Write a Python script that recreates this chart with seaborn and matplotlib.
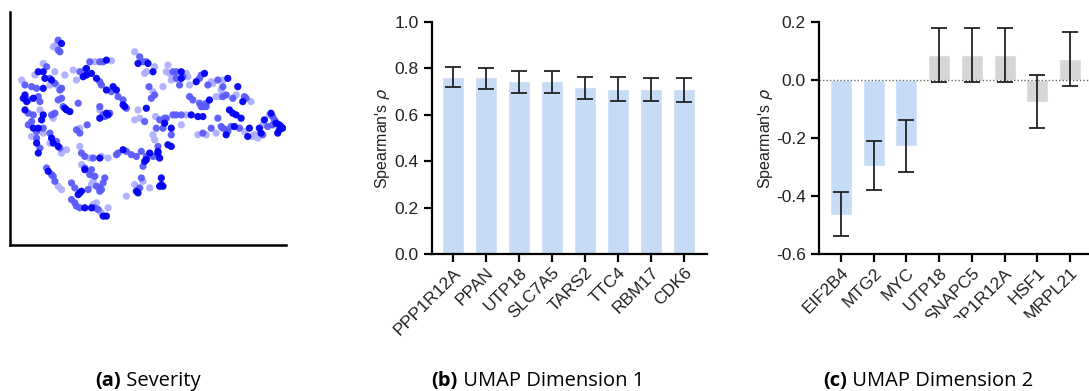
import matplotlib
matplotlib.use("Agg")
import matplotlib.pyplot as plt
import seaborn as sns
import pandas as pd
import numpy as np
from matplotlib.patches import Rectangle

# ---------------- data ----------------
# (a) UMAP embedding, points grouped by severity level
points_dark = [(185,130),(115,215),(130,215),(135,235),(155,240),(130,265),(75,285),(70,295),(100,295),(80,305),
               (75,330),(130,345),(125,360),(100,385),(115,385),(155,415),(160,430),(175,440),(110,430),(115,460),
               (250,230),(260,225),(320,180),(260,205),(275,220),(290,235),(320,270),(340,260),(350,270),(375,320),
               (370,315),(320,340),(325,345),(300,355),(200,330),(210,335),(195,325),(300,475),(370,450),(450,460),
               (475,455),(480,475),(495,370),(515,385),(505,435),(515,440),(475,460),(435,485),(440,480),(410,575),
               (415,580),(485,535),(485,555),(490,560),(480,560),(145,515),(240,580),(235,585),(245,575),(255,510),
               (255,625),(275,625),(310,650),(320,650),(415,190),(445,190),(460,215),(440,325),(545,215),(545,235),
               (590,245),(615,220),(685,235),(715,260),(630,300),(730,305),(690,330),(700,340),(710,345),(725,355),
               (595,350),(610,350),(575,345),(705,380),(680,405),(745,410),(750,385),(780,385),(795,360),(815,340),
               (830,370),(840,375),(850,385),(835,400),(840,390),(845,380),(785,400)]
points_mid = [(175,120),(175,150),(180,155),(140,200),(150,235),(75,255),(95,260),(110,265),(165,250),(185,265),
              (85,300),(115,290),(120,305),(85,340),(100,345),(155,345),(95,365),(130,385),(85,375),(110,395),
              (110,415),(150,400),(180,445),(120,445),(170,425),(240,215),(255,210),(270,185),(300,185),(310,185),
              (300,245),(305,255),(335,275),(355,290),(370,300),(380,325),(300,320),(315,350),(310,345),(330,340),
              (235,310),(190,320),(165,340),(175,300),(185,295),(180,270),(230,390),(240,400),(262,375),(245,460),
              (255,470),(280,475),(350,465),(355,460),(380,455),(395,465),(410,470),(425,455),(440,470),(460,470),
              (475,440),(470,385),(480,360),(500,355),(515,405),(440,475),(430,500),(425,535),(420,565),(140,505),
              (155,525),(160,530),(165,545),(215,550),(225,565),(265,570),(275,510),(270,525),(285,530),(290,560),
              (300,565),(300,575),(305,570),(315,535),(310,550),(215,600),(225,610),(230,620),(240,625),(285,625),
              (295,630),(255,505),(420,170),(430,185),(440,185),(448,260),(455,295),(465,285),(435,365),(520,215),
              (530,215),(550,230),(530,235),(540,255),(600,235),(605,225),(625,255),(655,240),(670,260),(570,290),
              (580,300),(600,310),(610,320),(620,310),(605,320),(670,290),(680,285),(700,295),(735,290),(740,295),
              (620,320),(520,345),(530,345),(545,345),(495,355),(490,385),(610,400),(635,385),(655,355),(665,380),
              (670,385),(680,390),(695,380),(685,395),(720,385),(805,380),(820,350),(825,360),(820,375),(790,405)]
points_light = [(160,140),(168,135),(130,190),(105,225),(165,215),(65,240),(195,225),(170,255),(150,255),(120,330),
                (130,400),(95,410),(185,460),(200,450),(150,430),(220,210),(285,185),(335,182),(230,240),(300,330),
                (160,355),(185,265),(240,385),(240,440),(270,475),(325,475),(305,470),(470,470),(465,420),(460,405),
                (430,545),(405,555),(380,590),(450,565),(175,560),(185,570),(275,555),(280,545),(280,615),(290,610),
                (300,635),(305,640),(325,625),(245,495),(405,155),(465,200),(440,215),(435,220),(460,275),(415,330),
                (405,360),(420,355),(468,350),(505,195),(500,215),(560,220),(565,230),(520,230),(515,240),(490,260),
                (510,220),(570,255),(635,245),(670,240),(665,270),(640,250),(650,290),(660,290),(710,285),(755,305),
                (560,345),(545,375),(595,405),(620,405),(650,400),(760,410),(765,405),(775,405),(790,375),(810,345),
                (830,365),(775,415),(735,395)]

# (b) UMAP Dimension 1
genes_b = ["PPP1R12A", "PPAN", "UTP18", "SLC7A5", "TARS2", "TTC4", "RBM17", "CDK6"]
rho_b = [0.765, 0.762, 0.746, 0.744, 0.719, 0.713, 0.712, 0.711]
lo_b = [0.718, 0.713, 0.696, 0.692, 0.666, 0.659, 0.659, 0.656]
hi_b = [0.805, 0.802, 0.789, 0.788, 0.765, 0.761, 0.759, 0.758]

# (c) UMAP Dimension 2
genes_c = ["EIF2B4", "MTG2", "MYC", "UTP18", "SNAPC5", "PPP1R12A", "HSF1", "MRPL21"]
rho_c = [-0.466, -0.296, -0.229, 0.086, 0.086, 0.086, -0.075, 0.073]
lo_c = [-0.539, -0.381, -0.317, -0.006, -0.006, -0.006, -0.165, -0.019]
hi_c = [-0.386, -0.209, -0.139, 0.178, 0.178, 0.178, 0.017, 0.164]
signif_c = [True, True, True, False, False, False, False, False]

captions = [("(a)", " Severity"), ("(b)", " UMAP Dimension 1"), ("(c)", " UMAP Dimension 2")]

# ---------------- style ----------------
sns.set_theme(style="ticks")
plt.rcParams["font.family"] = ["Liberation Sans", "DejaVu Sans"]
plt.rcParams["axes.linewidth"] = 1.5

BLUE = "#c6dcf6"
GREY = "#d6d6d6"
TXT = "#222222"

W, H = 1089, 391
fig = plt.figure(figsize=(W / 100, H / 100), dpi=100)

def box(l, r, t, b):
    return [l / W, (H - b) / H, (r - l) / W, (b - t) / H]

# ---------------- (a) scatter ----------------
ax_a = fig.add_axes(box(10, 286, 12, 245))
frames = []
for pts, lvl in [(points_light, "light"), (points_mid, "mid"), (points_dark, "dark")]:
    arr = np.array(pts)
    frames.append(pd.DataFrame({"u1": arr[:, 0], "u2": arr[:, 1], "sev": lvl}))
df_a = pd.concat(frames, ignore_index=True)
sns.scatterplot(data=df_a, x="u1", y="u2", hue="sev",
                palette={"light": "#aeaeff", "mid": "#5a5aff", "dark": "#0000f5"},
                s=27, linewidth=0, alpha=0.95, legend=False, ax=ax_a)
ax_a.set_xlim(30, 860)
ax_a.set_ylim(737, 35)
ax_a.set_xticks([]); ax_a.set_yticks([])
ax_a.set_xlabel(""); ax_a.set_ylabel("")
for s in ["top", "right"]:
    ax_a.spines[s].set_visible(False)
for s in ["left", "bottom"]:
    ax_a.spines[s].set_color("black")
    ax_a.spines[s].set_linewidth(1.8)

# ---------------- bar panels ----------------
def bar_panel(ax, genes, vals, lo, hi, colors, ylim, yticks, xlim, labelpad):
    df = pd.DataFrame({"gene": genes, "rho": vals})
    sns.barplot(data=df, x="gene", y="rho", hue="gene", palette=dict(zip(genes, colors)),
                width=0.67, errorbar=None, legend=False, ax=ax, saturation=1)
    v = np.array(vals); l = np.array(lo); h = np.array(hi)
    ax.errorbar(np.arange(len(genes)), v, yerr=[v - l, h - v], fmt="none",
                ecolor="#222222", elinewidth=1.3, capsize=5.5, capthick=1.3, zorder=5)
    ax.set_ylim(*ylim)
    ax.set_xlim(*xlim)
    ax.set_yticks(yticks)
    ax.set_yticklabels([f"{t:.1f}" for t in yticks])
    ax.set_xlabel("")
    ax.set_ylabel("Spearman's $\\rho$", fontsize=11.5, color=TXT, labelpad=labelpad)
    for s in ["top", "right"]:
        ax.spines[s].set_visible(False)
    for s in ["left", "bottom"]:
        ax.spines[s].set_color("black")
        ax.spines[s].set_linewidth(1.6)
    ax.tick_params(axis="both", direction="out", length=6, width=1.6, color="black",
                   labelsize=12.5, labelcolor=TXT)
    ax.tick_params(axis="x", pad=2)
    for lab in ax.get_xticklabels():
        lab.set_rotation(45)
        lab.set_ha("right")
        lab.set_rotation_mode("anchor")

ax_b = fig.add_axes(box(432, 707, 22, 254))
bar_panel(ax_b, genes_b, rho_b, lo_b, hi_b, [BLUE] * len(genes_b), (0, 1.0),
          [0, 0.2, 0.4, 0.6, 0.8, 1.0], (-0.636, 7.70), 2)

ax_c = fig.add_axes(box(819, 1089, 22, 254))
bar_panel(ax_c, genes_c, rho_c, lo_c, hi_c, [BLUE if s else GREY for s in signif_c], (-0.6, 0.2),
          [-0.6, -0.4, -0.2, 0.0, 0.2], (-0.673, 7.58), 1)
ax_c.axhline(0, color="#666666", linestyle=(0, (1, 1.5)), linewidth=1.0, zorder=1)

# clipped bottom of panel (c) labels as in the reference
fig.patches.append(Rectangle((790 / W, (H - 362) / H), (W - 790) / W, 44 / H,
                             transform=fig.transFigure, facecolor="white",
                             edgecolor="none", zorder=10))

# ---------------- captions ----------------
splits = [121, 458, 847]
for (bold, rest), xs in zip(captions, splits):
    fig.text(xs / W, (H - 381) / H, bold, ha="right", va="center", fontsize=14.5,
             family="Open Sans", fontweight="bold", color="black", zorder=11)
    fig.text(xs / W, (H - 381) / H, rest, ha="left", va="center", fontsize=14.5,
             family="Open Sans", color="black", zorder=11)

fig.savefig("out.png", dpi=100)
